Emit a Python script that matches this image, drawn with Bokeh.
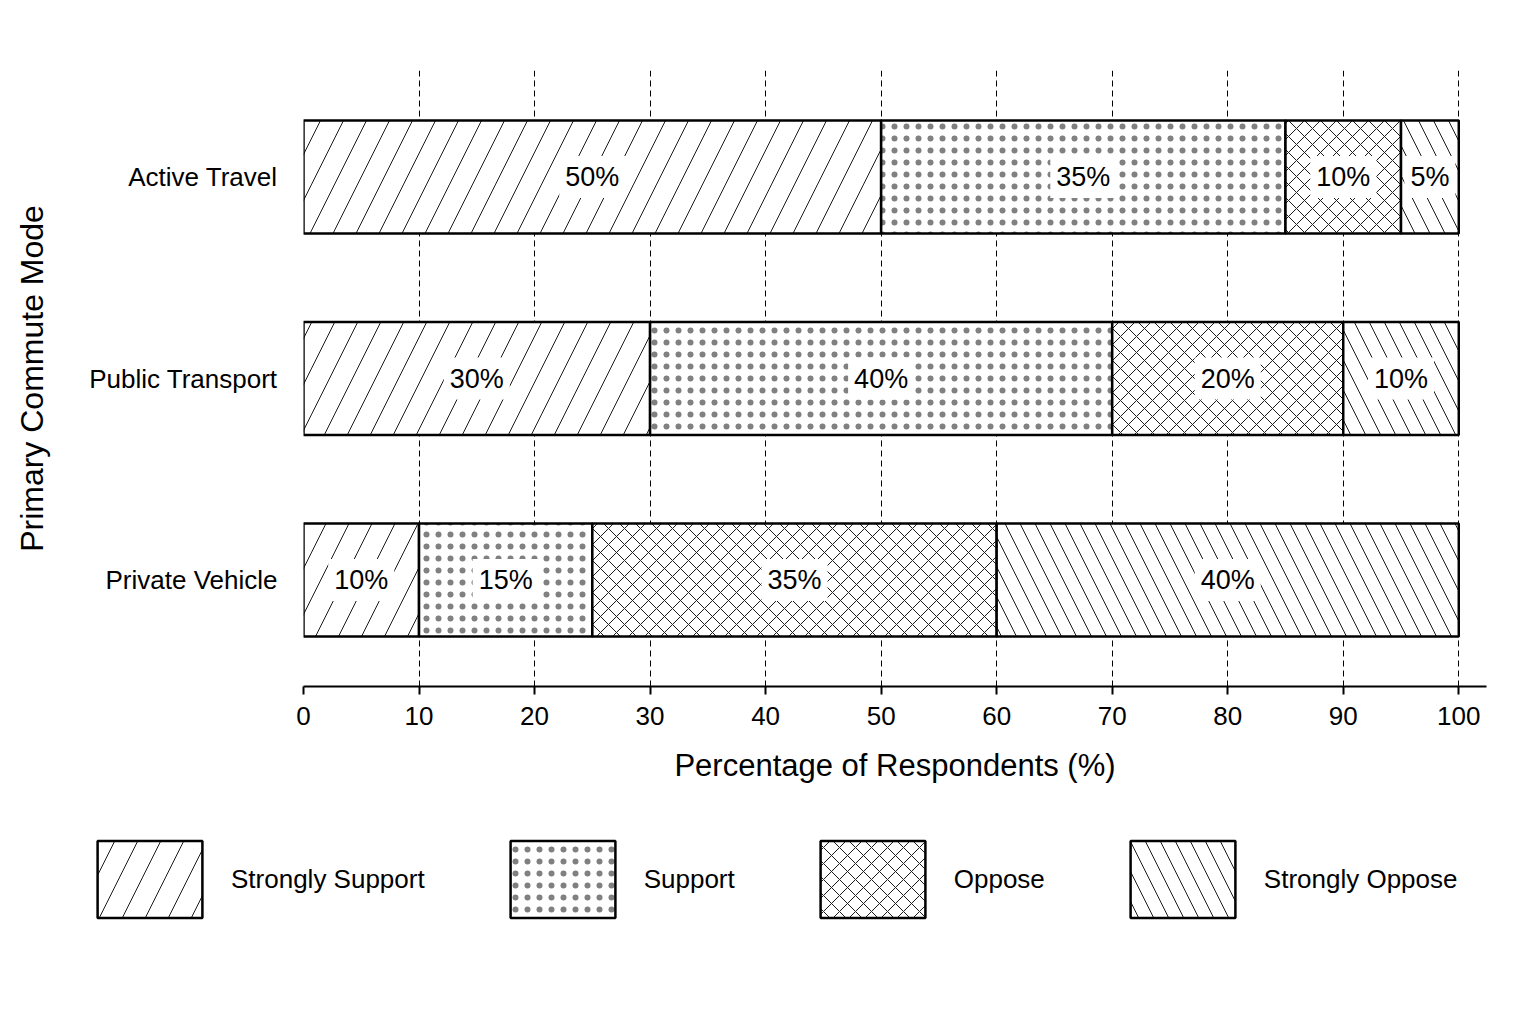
from bokeh.plotting import figure
from bokeh.models import (ColumnDataSource, Legend, LegendItem, FactorRange,
                          Range1d, FixedTicker)
from bokeh.core.properties import value
from bokeh.embed import file_html
from bokeh.resources import INLINE

# ---- data ----
modes = ["Private Vehicle", "Public Transport", "Active Travel"]
stances = ["Strongly Support", "Support", "Oppose", "Strongly Oppose"]
strongly_support = [10, 30, 50]
support = [15, 40, 35]
oppose = [35, 20, 10]
strongly_oppose = [40, 10, 5]
x_ticks = [0, 10, 20, 30, 40, 50, 60, 70, 80, 90, 100]

FONT = "Liberation Sans"
patterns = ["/", ".", "x", "\\"]
scales = [46, 12, 16, 30]
hatch_colors = ["#1a1a1a", "#808080", "#1a1a1a", "#1a1a1a"]

data = {"mode": modes, "Strongly Support": strongly_support, "Support": support,
        "Oppose": oppose, "Strongly Oppose": strongly_oppose}
src = ColumnDataSource(data)

p = figure(y_range=FactorRange(factors=modes, range_padding=0.019),
           x_range=Range1d(0, 102.4),
           width=1520, height=800, output_backend="svg", toolbar_location=None,
           min_border_left=303, min_border_top=70, min_border_bottom=114,
           min_border_right=34)
p.outline_line_color = None
p.background_fill_color = "white"

renderers = p.hbar_stack(stances, y="mode", height=0.56, source=src,
                         fill_color="white", line_color="black", line_width=2.5,
                         hatch_pattern=patterns, hatch_scale=scales,
                         hatch_color=hatch_colors, hatch_weight=1)

# labels at segment centres
lx, ly, lt = [], [], []
series = [strongly_support, support, oppose, strongly_oppose]
for i, m in enumerate(modes):
    left = 0
    for s in series:
        v = s[i]
        lx.append(left + v / 2)
        ly.append(m)
        lt.append(f"{v}%")
        left += v
lab_src = ColumnDataSource(dict(x=lx, y=ly, text=lt))
p.text(x="x", y="y", text="text", source=lab_src, text_align="center",
       text_baseline="middle", text_font=value(FONT), text_font_size="27px",
       text_color="black", background_fill_color="white", padding=6)

# axes
xa = p.xaxis[0]
xa.ticker = FixedTicker(ticks=x_ticks)
xa.axis_label = "Percentage of Respondents (%)"
xa.axis_label_text_font = FONT
xa.axis_label_text_font_size = "31px"
xa.axis_label_text_font_style = "normal"
xa.axis_label_text_color = "black"
xa.axis_label_standoff = 20
xa.major_label_text_font = FONT
xa.major_label_text_font_size = "26px"
xa.major_label_text_color = "black"
xa.major_label_standoff = 12
xa.axis_line_width = 2
xa.major_tick_line_width = 2
xa.major_tick_out = 8
xa.major_tick_in = 0
xa.minor_tick_line_color = None

ya = p.yaxis[0]
ya.axis_label = "Primary Commute Mode"
ya.axis_label_text_font = FONT
ya.axis_label_text_font_size = "32px"
ya.axis_label_text_font_style = "normal"
ya.axis_label_text_color = "black"
ya.axis_label_standoff = 36
ya.major_label_text_font = FONT
ya.major_label_text_font_size = "26px"
ya.major_label_text_color = "black"
ya.major_label_standoff = 20
ya.axis_line_color = None
ya.major_tick_line_color = None
ya.minor_tick_line_color = None

p.xgrid.ticker = FixedTicker(ticks=x_ticks)
p.xgrid.grid_line_color = "black"
p.xgrid.grid_line_dash = "6 4"
p.xgrid.grid_line_width = 1
p.ygrid.grid_line_color = None

# ---- legend strip below the chart (separate root, so it is not frame-aligned) ----
lg = figure(width=1520, height=160, output_backend="svg", toolbar_location=None,
            x_range=Range1d(0, 1), y_range=Range1d(0, 1),
            x_axis_location=None, y_axis_location=None,
            min_border_left=0, min_border_right=0, min_border_top=0,
            min_border_bottom=0)
lg.grid.visible = False
lg.outline_line_color = None
swatches = []
for name, pat, sc, hc in zip(stances, patterns, scales, hatch_colors):
    sw_src = ColumnDataSource(dict(y=[modes[0]], right=[data[name][0]]))
    r = lg.hbar(y="y", right="right", height=0.5, source=sw_src,
                fill_color="white", line_color="black", line_width=2.5,
                hatch_pattern=pat, hatch_scale=sc, hatch_color=hc,
                hatch_weight=1)
    r.visible = False
    swatches.append(r)
items = [LegendItem(label=s, renderers=[r]) for s, r in zip(stances, swatches)]
legend = Legend(items=items, orientation="horizontal", location=(84, 33),
                glyph_width=131, glyph_height=96, label_standoff=16, spacing=72,
                border_line_color=None, background_fill_alpha=0, padding=0, margin=0,
                inactive_fill_alpha=0,
                label_text_font=FONT, label_text_font_size="26px",
                label_text_color="black")
lg.add_layout(legend)

open("out.html", "w").write(file_html([p, lg], INLINE))
